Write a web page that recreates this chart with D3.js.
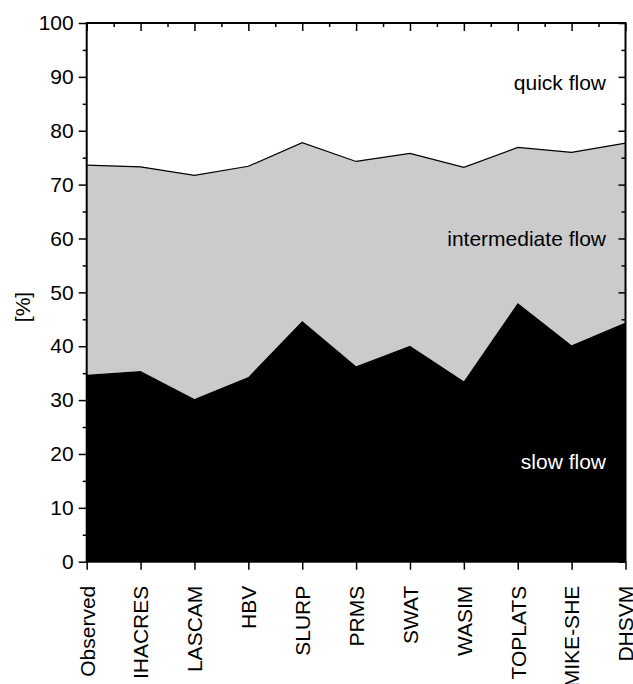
<!DOCTYPE html>
<html>
<head>
<meta charset="utf-8">
<script src="https://cdn.jsdelivr.net/npm/d3@7"></script>
<style>
  html, body { margin: 0; padding: 0; background: #fff; }
  svg { display: block; }
  text { font-family: "Liberation Sans", Arial, sans-serif; }
</style>
</head>
<body>
<svg id="chart" width="633" height="684"></svg>
<script>
const categories = ["Observed","IHACRES","LASCAM","HBV","SLURP","PRMS","SWAT","WASIM","TOPLATS","MIKE-SHE","DHSVM"];
// cumulative: slow flow, slow + intermediate flow (upper boundary), total = 100
const slowFlow = [34.7, 35.4, 30.2, 34.3, 44.7, 36.3, 40.1, 33.5, 48.0, 40.2, 44.4];
const slowPlusIntermediate = [73.6, 73.3, 71.7, 73.4, 77.8, 74.3, 75.8, 73.2, 76.9, 76.0, 77.7];
const yTicks = [0,10,20,30,40,50,60,70,80,90,100];
const yMinorTicks = [5,15,25,35,45,55,65,75,85,95];
const regionLabels = [
  {text: "quick flow", y: 90, fill: "#000"},
  {text: "intermediate flow", y: 246, fill: "#000"},
  {text: "slow flow", y: 469, fill: "#fff"}
];

(function () {
const svg = d3.select("#chart");
const mLeft = 86.7, mRight = 625.5, mTop = 23, mBottom = 561.7;
const FONT = 21;

const x = d3.scalePoint().domain(categories).range([mLeft, mRight]);
const xIdx = d3.scaleLinear().domain([0, categories.length - 1]).range([mLeft, mRight]);
const y = d3.scaleLinear().domain([0, 100]).range([mBottom, mTop]);

const data = categories.map((c, i) => ({c, s: slowFlow[i], u: slowPlusIntermediate[i]}));

// grey: intermediate
svg.append("path")
  .datum(data)
  .attr("fill", "#cbcbcb")
  .attr("d", d3.area().x(d => x(d.c)).y0(d => y(d.s)).y1(d => y(d.u)));
// black: slow
svg.append("path")
  .datum(data)
  .attr("fill", "#000")
  .attr("d", d3.area().x(d => x(d.c)).y0(y(0)).y1(d => y(d.s)));
// upper boundary line
svg.append("path")
  .datum(data)
  .attr("fill", "none")
  .attr("stroke", "#000")
  .attr("stroke-width", 1.2)
  .attr("d", d3.line().x(d => x(d.c)).y(d => y(d.u)));

// region labels
svg.selectAll("text.region")
  .data(regionLabels)
  .enter().append("text")
  .attr("class", "region")
  .attr("x", 606)
  .attr("y", d => d.y)
  .attr("text-anchor", "end")
  .attr("font-size", FONT)
  .attr("fill", d => d.fill)
  .text(d => d.text);

function styleAxis(g) {
  g.select(".domain").remove();
  g.selectAll(".tick line").attr("stroke", "#000").attr("stroke-width", 1.5);
  g.selectAll("text").attr("font-size", FONT).attr("fill", "#000")
    .attr("font-family", "'Liberation Sans', Arial, sans-serif");
}

// left axis
svg.append("g").attr("transform", `translate(${mLeft},0)`)
  .call(d3.axisLeft(y).tickValues(yTicks).tickSize(8).tickPadding(5).tickFormat(d3.format("d")))
  .call(styleAxis);
svg.append("g").attr("transform", `translate(${mLeft},0)`)
  .call(d3.axisLeft(y).tickValues(yMinorTicks).tickSize(4).tickFormat(""))
  .call(styleAxis);

// right axis (inward)
svg.append("g").attr("transform", `translate(${mRight},0)`)
  .call(d3.axisRight(y).tickValues(yTicks).tickSize(-7).tickFormat(""))
  .call(styleAxis);
svg.append("g").attr("transform", `translate(${mRight},0)`)
  .call(d3.axisRight(y).tickValues(yMinorTicks).tickSize(-4).tickFormat(""))
  .call(styleAxis);

// top axis (inward)
svg.append("g").attr("transform", `translate(0,${mTop})`)
  .call(d3.axisTop(x).tickSize(-8).tickFormat(""))
  .call(styleAxis);
svg.append("g").attr("transform", `translate(0,${mTop})`)
  .call(d3.axisTop(xIdx).tickValues(d3.range(0.5, categories.length - 1, 1)).tickSize(-4).tickFormat(""))
  .call(styleAxis);

// bottom axis
const bx = svg.append("g").attr("transform", `translate(0,${mBottom})`)
  .call(d3.axisBottom(x).tickSize(8).tickPadding(0))
  .call(styleAxis);
bx.selectAll(".tick text")
  .attr("text-anchor", "end")
  .attr("transform", "translate(0,24) rotate(-90)")
  .attr("x", 0)
  .attr("y", 0)
  .attr("dy", "0.35em");
svg.append("g").attr("transform", `translate(0,${mBottom})`)
  .call(d3.axisBottom(xIdx).tickValues(d3.range(0.5, categories.length - 1, 1)).tickSize(-4).tickFormat(""))
  .call(styleAxis);

// frame
svg.append("rect")
  .attr("x", mLeft).attr("y", mTop)
  .attr("width", mRight - mLeft).attr("height", mBottom - mTop)
  .attr("fill", "none").attr("stroke", "#000").attr("stroke-width", 2);

// y title
svg.append("text")
  .attr("transform", `translate(30,307) rotate(-90)`)
  .attr("text-anchor", "middle")
  .attr("font-size", FONT)
  .text("[%]");
})();
</script>
</body>
</html>
